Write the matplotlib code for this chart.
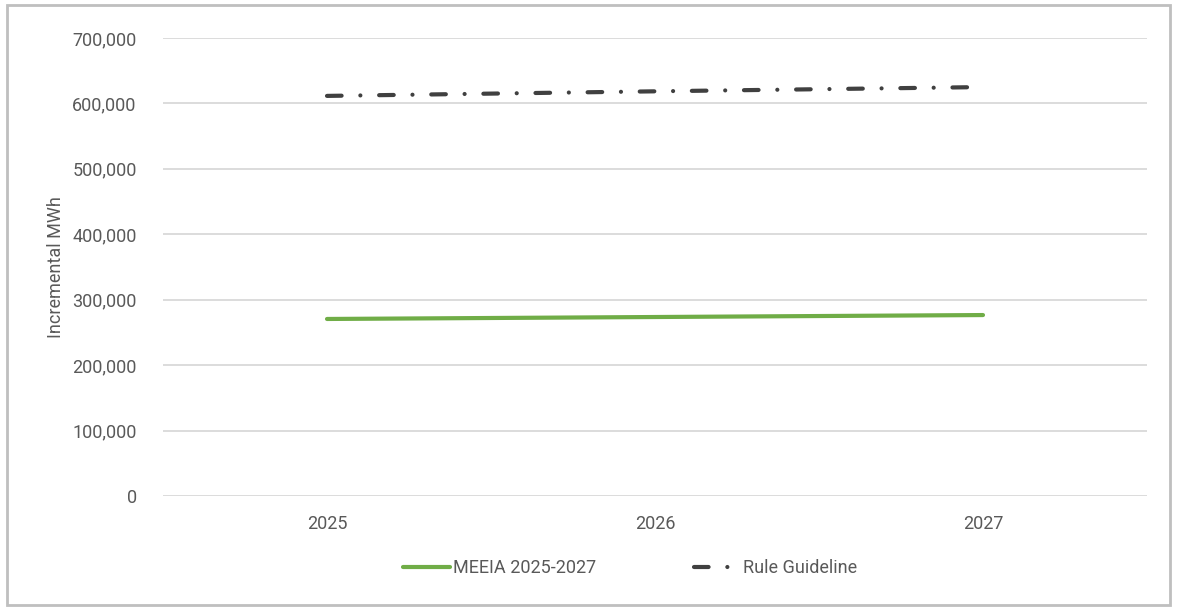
import matplotlib.pyplot as plt
from matplotlib.patches import Rectangle
from matplotlib.ticker import FuncFormatter

years = ['2025', '2026', '2027']
meeia = [270500, 273500, 276500]
rule_guideline = [611500, 618500, 625000]

plt.rcParams['font.family'] = ['Roboto', 'DejaVu Sans']
text_color = '#595959'

fig = plt.figure(figsize=(11.77, 6.10), dpi=100)
ax = fig.add_axes([0.1385, 0.187, 0.836, 0.7507])

x = range(len(years))
ax.plot(x, meeia, color='#70AD47', lw=3, solid_capstyle='round', label='MEEIA 2025-2027')
ax.plot(x, rule_guideline, color='#404040', lw=3, dash_capstyle='round',
        dashes=(3.5, 4.5, 0.01, 4.5), label='Rule Guideline')

ax.set_xlim(-0.5, 2.5)
ax.set_ylim(0, 700000)
ax.set_xticks(list(x))
ax.set_xticklabels(years)
ax.set_yticks(range(0, 700001, 100000))
ax.yaxis.set_major_formatter(FuncFormatter(lambda v, p: f'{int(v):,}'))
ax.grid(axis='y', color='#D9D9D9', lw=1.3)
ax.set_axisbelow(True)
for s in ax.spines.values():
    s.set_visible(False)
ax.tick_params(length=0, labelsize=13, labelcolor=text_color)
ax.tick_params(axis='y', pad=19)
ax.tick_params(axis='x', pad=14)
ax.set_ylabel('Incremental MWh', fontsize=13, color=text_color, labelpad=5)

leg = ax.legend(loc='upper center', bbox_to_anchor=(0.475, -0.103), ncol=2, frameon=False,
                fontsize=13, handlelength=2.6, columnspacing=5.4, handletextpad=0.15)
for t in leg.get_texts():
    t.set_color(text_color)

# frame around the chart
fig.patches.append(Rectangle((0.006, 0.008), 0.988, 0.984, transform=fig.transFigure,
                             fill=False, edgecolor='#BFBFBF', lw=2))

fig.savefig('out.png', dpi=100)
